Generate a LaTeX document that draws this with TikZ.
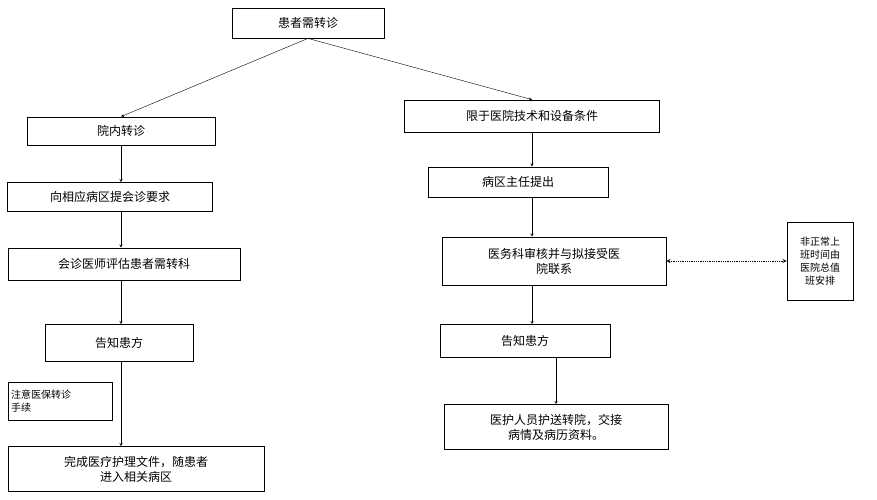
\documentclass[tikz,border=0pt]{standalone}
\usepackage{fontspec}
\setmainfont{Noto Sans CJK SC}
\usetikzlibrary{positioning,arrows}

\begin{document}
\begin{tikzpicture}[x=1pt,y=-1pt,
    ->,
    >=stealth,
    bb/.style={%
      rectangle, draw=black, thick, fill=white,
      inner sep=3pt, align=center, font=\fontsize{12}{15}\selectfont
    },
    sm/.style={%
      rectangle, draw=black, thick, fill=white,
      inner sep=3pt, align=center, font=\fontsize{10}{13}\selectfont
    }
]
    \useasboundingbox (0,0) rectangle (877,499);
    \node[bb, minimum width=152, minimum height=30] (top)  at (308,23)  {患者需转诊};
    \node[bb, minimum width=188, minimum height=28] (in)   at (121,131) {院内转诊};
    \node[bb, minimum width=255, minimum height=32] (lim)  at (532,116) {限于医院技术和设备条件};
    \node[bb, minimum width=205, minimum height=29] (req)  at (110,197) {向相应病区提会诊要求};
    \node[bb, minimum width=180, minimum height=30] (dir)  at (518,182) {病区主任提出};
    \node[bb, minimum width=232, minimum height=32] (eval) at (124,264) {会诊医师评估患者需转科};
    \node[bb, text width=218, minimum height=48] (aud)  at (554,261) {医务科审核并与拟接受医\\院联系};
    \node[sm, text width=60, minimum height=78] (night) at (820,261) {非正常上\\班时间由\\医院总值\\班安排};
    \node[bb, minimum width=148, minimum height=37] (telL) at (119,343) {告知患方};
    \node[bb, minimum width=170, minimum height=33] (telR) at (525,341) {告知患方};
    \node[sm, text width=98, minimum height=38, align=left] (ins) at (60,401) {注意医保转诊\\手续};
    \node[bb, text width=250, minimum height=45] (done) at (136,469) {完成医疗护理文件，随患者\\进入相关病区};
    \node[bb, text width=218, minimum height=45] (esc)  at (556,427) {医护人员护送转院，交接\\病情及病历资料。};

    \draw (top.south) -- (in.north);
    \draw (top.south) -- (lim.north);
    \draw (in) -- (in |- req.north);
    \draw (req.south -| in) -- (in |- eval.north);
    \draw (eval.south -| in) -- (in |- telL.north);
    \draw (telL.south -| in) -- (in |- done.north);
    \draw (lim.south) -- (lim.south |- dir.north);
    \draw (dir.south -| lim.south) -- (lim.south |- aud.north);
    \draw (aud.south -| lim.south) -- (lim.south |- telR.north);
    \draw (telR.south -| esc) -- (esc.north);
    \draw[<->, densely dotted, thick] (aud) -- (night);
\end{tikzpicture}
\end{document}
